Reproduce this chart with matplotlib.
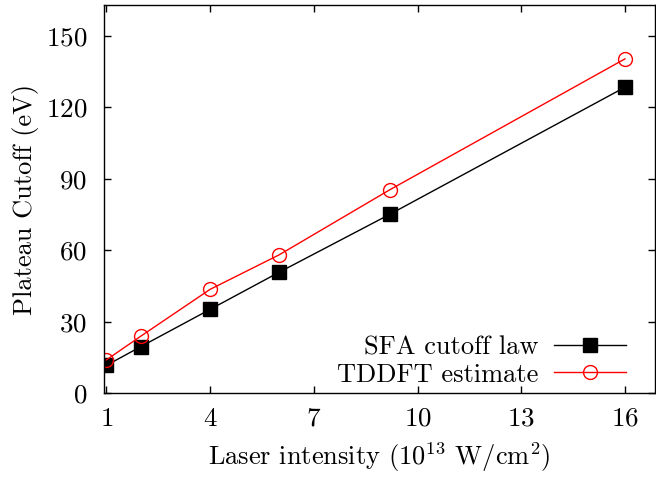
import matplotlib
matplotlib.use('Agg')
import matplotlib.pyplot as plt

intensity = [1, 2, 4, 6, 9.2, 16]
sfa_cutoff = [11.7, 19.6, 35.2, 50.8, 75.1, 128.4]
tddft_cutoff = [14.0, 24.0, 43.6, 58.1, 85.4, 140.3]

xticks = [1, 4, 7, 10, 13, 16]
yticks = [0, 30, 60, 90, 120, 150]

plt.rcParams['font.family'] = 'serif'
plt.rcParams['font.serif'] = ['cmr10']
plt.rcParams['mathtext.fontset'] = 'cm'
plt.rcParams['axes.formatter.use_mathtext'] = True

fig = plt.figure(figsize=(6.56, 4.79), dpi=100)
ax = fig.add_axes([0.1585, 0.179, 0.84, 0.811])

ax.plot(intensity, sfa_cutoff, color='black', lw=1.0, marker='s', ms=9.5,
        label='SFA cutoff law')
ax.plot(intensity, tddft_cutoff, color='red', lw=1.0, marker='o', ms=10,
        mfc='none', mew=1.0, label='TDDFT estimate')

ax.set_xlim(0.93, 16.87)
ax.set_ylim(0, 163)
ax.set_xticks(xticks)
ax.set_yticks(yticks)
ax.tick_params(direction='in', top=True, right=True, length=5, width=1,
               labelsize=19.5)
ax.tick_params(axis='x', pad=10)
ax.tick_params(axis='y', pad=12)
for s in ax.spines.values():
    s.set_linewidth(1.0)

ax.set_xlabel(r'Laser intensity ($10^{13}$ W/cm$^2$)', fontsize=19, labelpad=7)
ax.set_ylabel('Plateau Cutoff (eV)', fontsize=19, labelpad=5)

ax.legend(loc='lower right', bbox_to_anchor=(0.966, -0.01), frameon=False,
          markerfirst=False, fontsize=19, handlelength=2.7, labelspacing=0.12,
          borderaxespad=0, handletextpad=0.6)

fig.savefig('out.png', dpi=100)
